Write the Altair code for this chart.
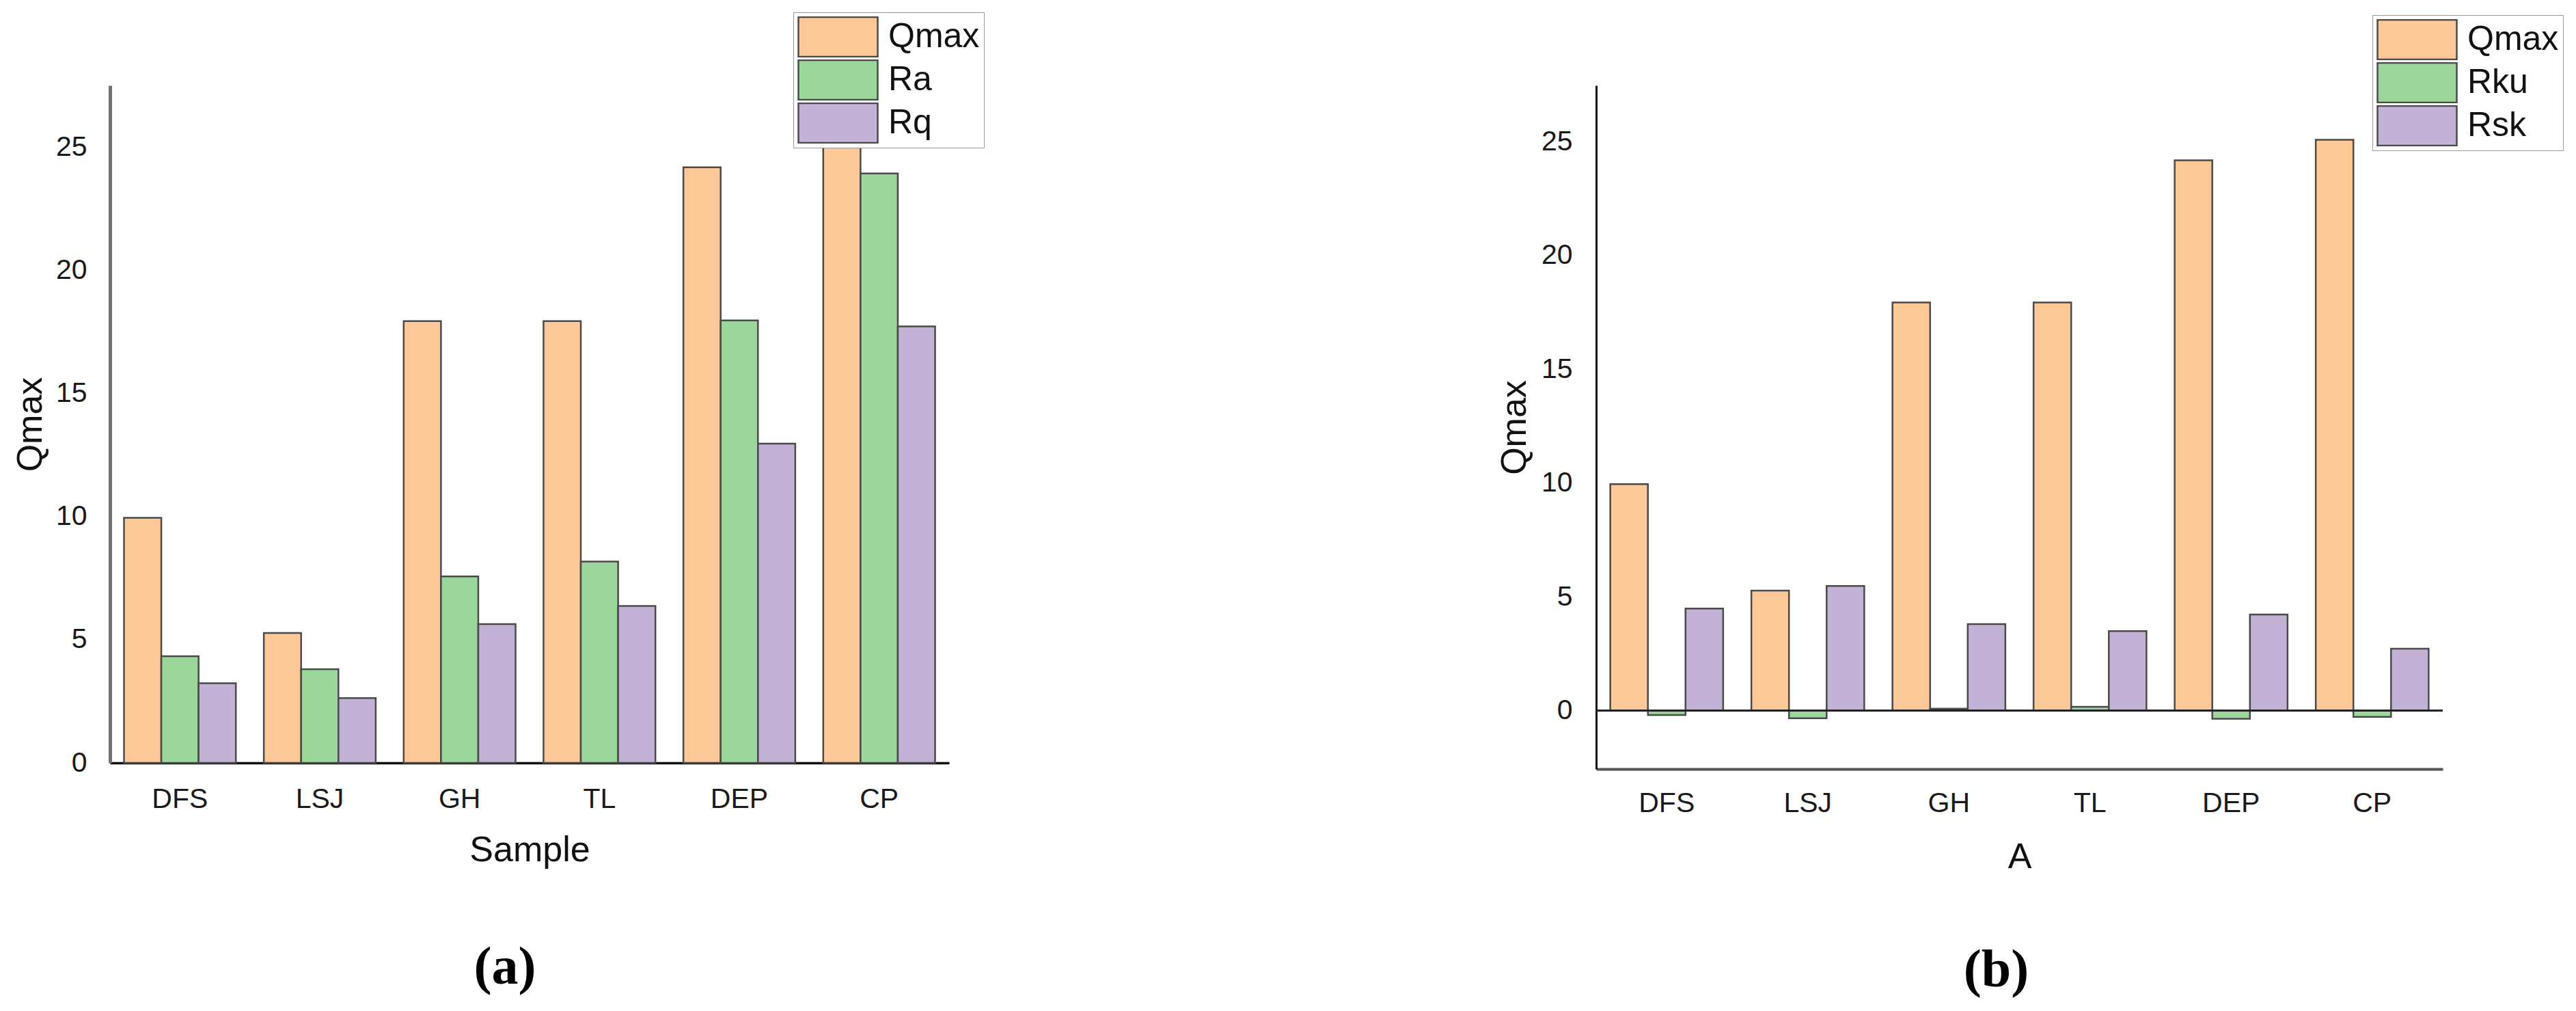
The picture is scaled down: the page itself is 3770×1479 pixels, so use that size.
import altair as alt
import pandas as pd

samples = ["DFS", "LSJ", "GH", "TL", "DEP", "CP"]

# panel (a)
qmax = [9.95, 5.27, 17.93, 17.93, 24.18, 25.08]
ra = [4.33, 3.80, 7.57, 8.17, 17.96, 23.93]
rq = [3.23, 2.63, 5.63, 6.37, 12.96, 17.72]

# panel (b)
rku = [-0.20, -0.34, 0.08, 0.16, -0.36, -0.28]
rsk = [4.48, 5.47, 3.80, 3.49, 4.22, 2.72]

series_a = ["Qmax", "Ra", "Rq"]
series_b = ["Qmax", "Rku", "Rsk"]
colors = ["#FDC897", "#9DD69B", "#C2B2D6"]
y_ticks = [0, 5, 10, 15, 20, 25]

FONT = "Liberation Sans"


def long_df(series, cols):
    rows = []
    for name, vals in zip(series, cols):
        for s, v in zip(samples, vals):
            rows.append({"sample": s, "series": name, "value": v})
    return pd.DataFrame(rows)


df_a = long_df(series_a, [qmax, ra, rq])
df_b = long_df(series_b, [qmax, rku, rsk])


def make_panel(df, series, xtitle, ydomain, width, height, lx, ly,
               caption, cap_dx, cap_offset, xdom_color, xdom_w, ydom_color, ydom_w,
               x_lab_pad, x_title_pad, y_lab_pad, y_title_pad):
    bars = alt.Chart(df).mark_bar(stroke="#4a4a4a", strokeWidth=2.5).encode(
        x=alt.X(
            "sample:N", sort=samples, title=xtitle,
            scale=alt.Scale(paddingInner=0.2, paddingOuter=0.1),
            axis=alt.Axis(
                labelAngle=0, labelFont=FONT, labelFontSize=41, labelColor="#1a1a1a",
                labelPadding=x_lab_pad, ticks=False, tickSize=0,
                domainColor=xdom_color, domainWidth=xdom_w,
                titleFont=FONT, titleFontSize=52, titleFontWeight="normal",
                titleColor="#111111", titlePadding=x_title_pad, grid=False,
            ),
        ),
        xOffset=alt.XOffset("series:N", sort=series,
                            scale=alt.Scale(domain=series, paddingInner=0, paddingOuter=0)),
        y=alt.Y(
            "value:Q", title="Qmax", stack=False,
            scale=alt.Scale(domain=ydomain, nice=False, zero=False),
            axis=alt.Axis(
                values=y_ticks, labelFont=FONT, labelFontSize=41, labelColor="#1a1a1a",
                labelPadding=y_lab_pad, ticks=False, tickSize=0,
                domainColor=ydom_color, domainWidth=ydom_w, grid=False,
                titleFont=FONT, titleFontSize=52, titleFontWeight="normal",
                titleColor="#111111", titlePadding=y_title_pad,
            ),
        ),
        y2=alt.datum(0),
        color=alt.Color(
            "series:N", sort=series, title=None,
            scale=alt.Scale(domain=series, range=colors),
            legend=alt.Legend(
                orient="none", legendX=lx, legendY=ly, direction="vertical",
                fillColor="white", strokeColor="#999999", padding=6,
                symbolType="M-1,-0.5H1V0.5H-1Z", symbolSize=13456,
                symbolStrokeColor="#4a4a4a", symbolStrokeWidth=2.5,
                clipHeight=60, rowPadding=3,
                labelFont=FONT, labelFontSize=50, labelColor="#111111",
                labelOffset=14,
            ),
        ),
    )
    return bars, dict(
        width=width, height=height,
        title=alt.TitleParams(
            text=caption, orient="bottom", anchor="middle", frame="group",
            font="Liberation Serif", fontSize=78, fontWeight="bold",
            color="#000000", dx=cap_dx, offset=cap_offset,
        ),
    )


bars_a, props_a = make_panel(
    df_a, series_a, "Sample", [0, 27.5], 1228, 991, 1000, -107,
    "(a)", -36, 108, "#111111", 3.5, "#707070", 5, 33, 29, 34, 10)
panel_a = bars_a.properties(**props_a)

bars_b, props_b = make_panel(
    df_b, series_b, "A", [-2.57, 27.47], 1239, 1000, 1136, -103,
    "(b)", -34, 102, "#555555", 4, "#111111", 3, 30, 33, 35, 12)

zero_df = pd.DataFrame({"zero": [0]})
zero_rule = alt.Chart(zero_df).mark_rule(color="#222222", strokeWidth=3).encode(
    y=alt.Y("zero:Q")
)
panel_b = alt.layer(bars_b, zero_rule).properties(**props_b)

chart = alt.hconcat(panel_a, panel_b, spacing=749).resolve_scale(
    color="independent", xOffset="independent", x="independent", y="independent"
).resolve_legend(color="independent").properties(
    padding={"left": 10, "top": 9, "right": 5, "bottom": 5},
    background="white",
).configure_view(stroke=None, strokeWidth=0)

chart.save("out.html", embed_options={"renderer": "svg", "actions": False})
